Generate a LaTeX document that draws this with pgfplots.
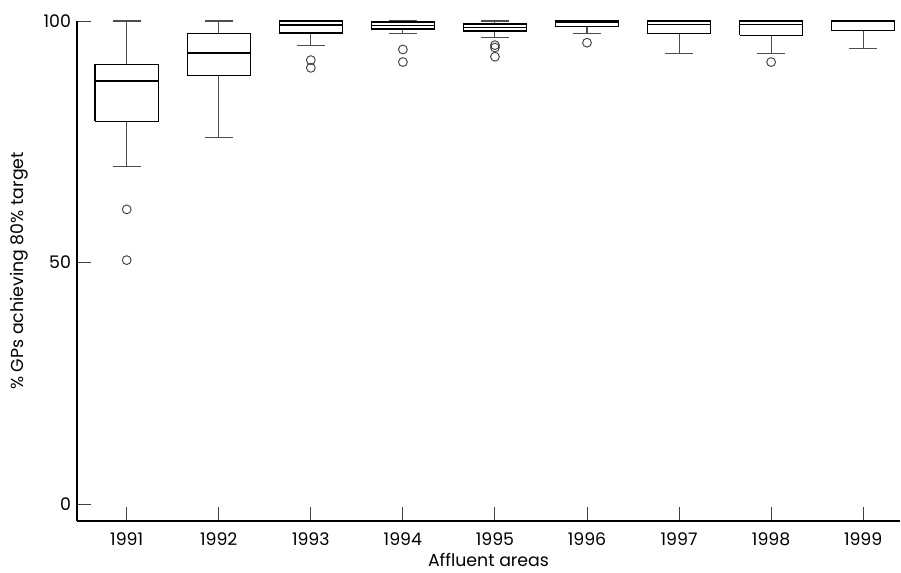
\documentclass[border=0pt]{standalone}
\usepackage{pgfplots}
\pgfplotsset{compat=1.18}
\usetikzlibrary{calc}
\usepackage{fontspec}
\setmainfont{Poppins}
\begin{document}
\fontsize{13}{15}\selectfont
\begin{tikzpicture}
\begin{axis}[
  scale only axis, width=617.25pt, height=375pt,
  xmin=0.46, xmax=9.4, ymin=-3.5, ymax=100,
  axis lines=left, axis line style={-, line width=0.8pt, black},
  xtick={1,2,3,4,5,6,7,8,9}, ytick={0,50,100},
  xticklabels={1991,1992,1993,1994,1995,1996,1997,1998,1999},
  /pgf/number format/assume math mode=true,
  tick align=inside, major tick length=10.5pt,
  tick style={line width=0.7pt, black!75},
  xlabel={Affluent areas}, ylabel={\% GPs achieving 80\% target},
  xlabel style={yshift=3.5pt},
  ylabel style={yshift=3pt},
  xticklabel style={yshift=-4.5pt},
  clip=false,
  unbounded coords=jump,
]
% whiskers and caps (lower cap, lower whisker, upper whisker, upper cap)
\addplot[black!70, line width=0.8pt] coordinates {
 (0.85,69.8) (1.15,69.8) (1,nan) (1,69.8) (1,79.2) (1,nan) (1,91.0) (1,100) (1,nan) (0.85,100) (1.15,100) (1,nan)
 (1.85,75.8) (2.15,75.8) (2,nan) (2,75.8) (2,88.7) (2,nan) (2,97.4) (2,100) (2,nan) (1.85,100) (2.15,100) (2,nan)
 (2.85,95.0) (3.15,95.0) (3,nan) (3,95.0) (3,97.5) (3,nan)
 (3.85,97.4) (4.15,97.4) (4,nan) (4,97.4) (4,98.3) (4,nan) (4,99.8) (4,100) (4,nan) (3.85,100) (4.15,100) (4,nan)
 (4.85,96.5) (5.15,96.5) (5,nan) (5,96.5) (5,97.9) (5,nan) (5,99.4) (5,100) (5,nan) (4.85,100) (5.15,100) (5,nan)
 (5.85,97.4) (6.15,97.4) (6,nan) (6,97.4) (6,98.9) (6,nan)
 (6.85,93.2) (7.15,93.2) (7,nan) (7,93.2) (7,97.4) (7,nan)
 (7.85,93.3) (8.15,93.3) (8,nan) (8,93.3) (8,97.0) (8,nan)
 (8.85,94.3) (9.15,94.3) (9,nan) (9,94.3) (9,98.0) (9,nan)
};
% boxes (lower quartile to upper quartile)
\addplot[black, line width=1.1pt, line join=miter] coordinates {
 (0.6575,79.2) (1.3425,79.2) (1.3425,91.0) (0.6575,91.0) (0.6575,79.2) (1,nan)
 (1.6575,88.7) (2.3425,88.7) (2.3425,97.4) (1.6575,97.4) (1.6575,88.7) (2,nan)
 (2.6575,97.5) (3.3425,97.5) (3.3425,100) (2.6575,100) (2.6575,97.5) (3,nan)
 (3.6575,98.3) (4.3425,98.3) (4.3425,99.8) (3.6575,99.8) (3.6575,98.3) (4,nan)
 (4.6575,97.9) (5.3425,97.9) (5.3425,99.4) (4.6575,99.4) (4.6575,97.9) (5,nan)
 (5.6575,98.9) (6.3425,98.9) (6.3425,100) (5.6575,100) (5.6575,98.9) (6,nan)
 (6.6575,97.4) (7.3425,97.4) (7.3425,100) (6.6575,100) (6.6575,97.4) (7,nan)
 (7.6575,97.0) (8.3425,97.0) (8.3425,100) (7.6575,100) (7.6575,97.0) (8,nan)
 (8.6575,98.0) (9.3425,98.0) (9.3425,100) (8.6575,100) (8.6575,98.0) (9,nan)
};
% medians
\addplot[black, line width=1pt] coordinates {
 (0.6575,87.6) (1.3425,87.6) (1,nan)
 (1.6575,93.4) (2.3425,93.4) (2,nan)
 (2.6575,99.2) (3.3425,99.2) (3,nan)
 (3.6575,99.1) (4.3425,99.1) (4,nan)
 (4.6575,98.7) (5.3425,98.7) (5,nan)
 (5.6575,99.8) (6.3425,99.8) (6,nan)
 (6.6575,99.3) (7.3425,99.3) (7,nan)
 (7.6575,99.3) (8.3425,99.3) (8,nan)
 (8.6575,100) (9.3425,100)
};
% outliers
\addplot[only marks, mark=o, mark size=3.3pt, mark options={draw=black!75, line width=0.7pt}] coordinates {
 (1,61.0) (1,50.5) (3,91.9) (3,90.3) (4,94.1) (4,91.5) (5,95.0) (5,94.5) (5,92.6) (6,95.5) (8,91.5)
};
\end{axis}
\pgfresetboundingbox
\path ($(current axis.south west)+(-57.75pt,-39pt)$) rectangle ($(current axis.north east)+(0.75pt,15.75pt)$);
\end{tikzpicture}
\end{document}
